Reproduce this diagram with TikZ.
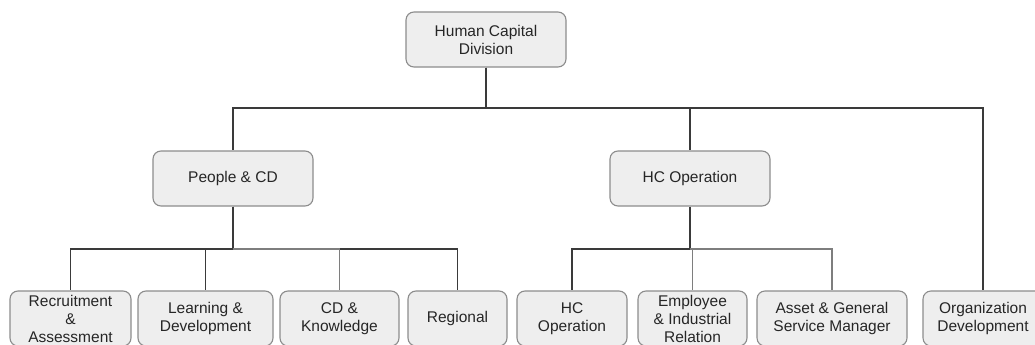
\documentclass[tikz,border=0pt]{standalone}
\usepackage{fontspec}
\setmainfont{Liberation Sans}
\usetikzlibrary{calc}
\definecolor{boxfill}{HTML}{EEEEEE}
\definecolor{boxline}{HTML}{8C8C8C}
\definecolor{darkline}{HTML}{3A3A3A}
\definecolor{lightline}{HTML}{7E7E7E}
\definecolor{txt}{HTML}{262626}
\begin{document}
\begin{tikzpicture}[x=1pt, y=-1pt,
unit/.style = {draw=boxline, line width=1.1pt, fill=boxfill, rounded corners=8pt,
	minimum height=55pt, inner sep=0pt, align=center, text=txt,
	font=\fontsize{15.5}{18}\selectfont},
link/.style = {draw=darkline, line width=1.4pt},
faint link/.style = {draw=lightline, line width=1.3pt}
]
\useasboundingbox (0, 0) rectangle (1035, 345);
\clip (0, 0) rectangle (1035, 345);
% top
\node[unit, minimum width=160pt] (hcd) at (486, 39.5) {Human Capital\\Division};
% second level
\node[unit, minimum width=160pt] (pcd) at (233, 178.5) {People \& CD};
\node[unit, minimum width=160pt] (hco) at (690, 178.5) {HC Operation};
% bottom row
\node[unit, minimum width=121pt] (rec) at (70.5, 318.5) {Recruitment\\\&\\Assessment};
\node[unit, minimum width=135pt] (lnd) at (205.5, 318.5) {Learning \&\\Development};
\node[unit, minimum width=119pt] (cdk) at (339.5, 318.5) {CD \&\\Knowledge};
\node[unit, minimum width=99pt] (reg) at (457.5, 318.5) {Regional};
\node[unit, minimum width=110pt] (hcop) at (572, 318.5) {HC\\Operation};
\node[unit, minimum width=109pt] (eir) at (692.5, 318.5) {Employee\\\& Industrial\\Relation};
\node[unit, minimum width=150pt] (ags) at (832, 318.5) {Asset \& General\\Service Manager};
\node[unit, minimum width=120pt] (odv) at (983, 318.5) {Organization\\Development};
% connectors
\draw[link] (hcd.south) -- (hcd.south |- 0, 108) -| (pcd.north);
\draw[link] (hcd.south) -- (hcd.south |- 0, 108) -| (hco.north);
\draw[link] (hcd.south) -- (hcd.south |- 0, 108) -| (odv.north);
\foreach \kid in {rec, lnd, reg}
	\draw[link] (pcd.south) -- (pcd.south |- 0, 249) -| (\kid.north);
\draw[faint link] (pcd.south |- 0, 249) -| (cdk.north);
\draw[link] (hco.south) -- (hco.south |- 0, 249) -| (hcop.north);
\foreach \kid in {eir, ags}
	\draw[faint link] (hco.south |- 0, 249) -| (\kid.north);
\end{tikzpicture}
\end{document}
